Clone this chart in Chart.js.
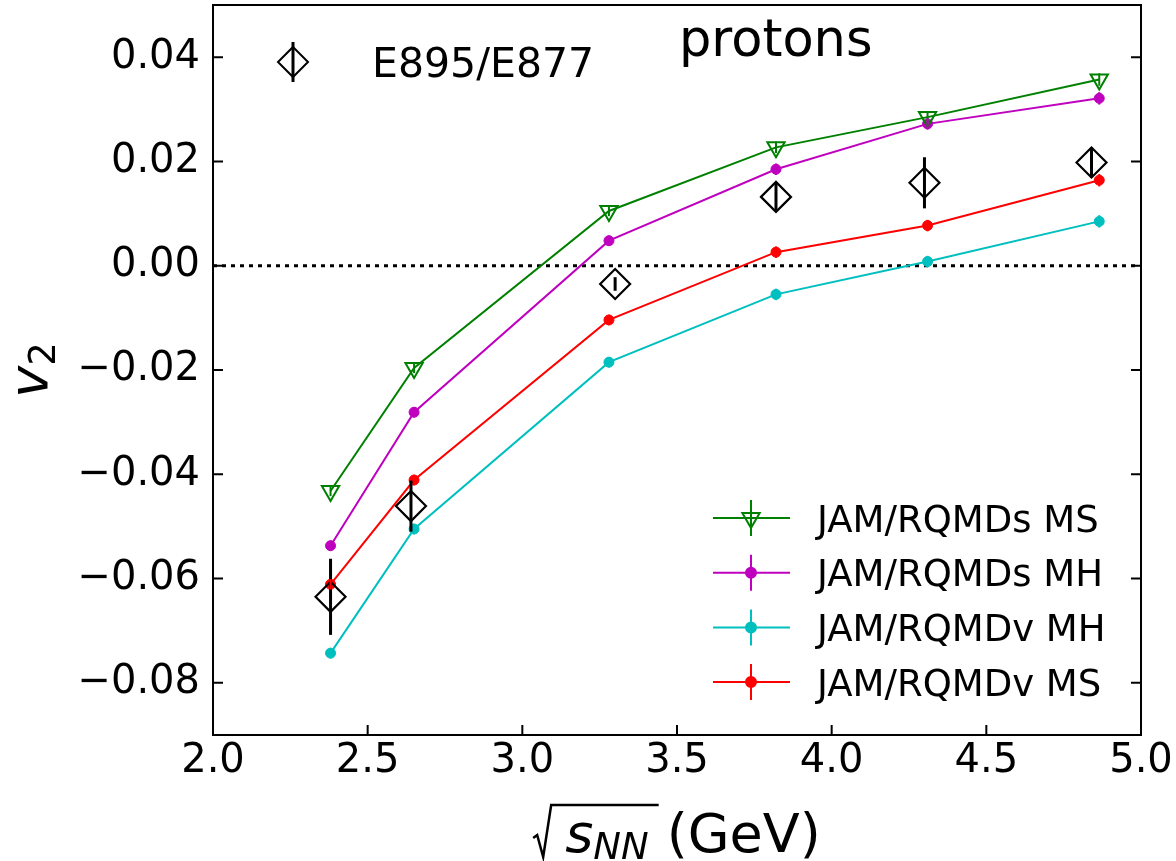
<!DOCTYPE html>
<html>
<head>
<meta charset="utf-8">
<title>protons v2</title>
<script src="https://cdn.jsdelivr.net/npm/chart.js@4.4.0/dist/chart.umd.min.js"></script>
<style>
  html, body { margin: 0; padding: 0; background: #fff; }
  #wrap { width: 1176px; height: 861px; position: relative; }
</style>
</head>
<body>
<div id="wrap"><canvas id="v2Chart"></canvas></div>
<script>
// sqrt(s_NN) in GeV
const modelEnergies = [2.38, 2.65, 3.28, 3.82, 4.31, 4.865];
const dataEnergies = [2.38, 2.64, 3.30, 3.82, 4.30, 4.84];

// model v2 values + small stat errors
const rqmdsMS = [-0.0432, -0.0196, 0.0105, 0.0227, 0.0285, 0.0357];
const rqmdsMH = [-0.0537, -0.0281, 0.0048, 0.0185, 0.0272, 0.0321];
const rqmdvMH = [-0.0743, -0.0505, -0.0185, -0.0055, 0.0008, 0.0085];
const rqmdvMS = [-0.0611, -0.0411, -0.0104, 0.0026, 0.0077, 0.0164];
const rqmdsMSErr = [0.0010, 0.0010, 0.0010, 0.0011, 0.0011, 0.0012];
const rqmdsMHErr = [0.0010, 0.0010, 0.0010, 0.0011, 0.0011, 0.0012];
const rqmdvMHErr = [0.0010, 0.0010, 0.0010, 0.0011, 0.0011, 0.0012];
const rqmdvMSErr = [0.0010, 0.0010, 0.0010, 0.0011, 0.0011, 0.0012];

// E895/E877 measurements
const e895 = [-0.0635, -0.0461, -0.0035, 0.0132, 0.0159, 0.0198];
const e895Err = [0.0073, 0.0049, 0.0013, 0.0028, 0.0049, 0.0029];

const xTicks = [2.0, 2.5, 3.0, 3.5, 4.0, 4.5, 5.0];
const yTicks = [-0.08, -0.06, -0.04, -0.02, 0.0, 0.02, 0.04];
const yRange = [-0.09, 0.05];

const FONT = '"DejaVu Sans", sans-serif';

function toPoints(xs, ys) {
  return xs.map((x, i) => ({ x: x, y: ys[i] }));
}

function fmtY(v) {
  if (Math.abs(v) < 1e-9) return "0.00";
  return (v < 0 ? "\u2212" : "") + Math.abs(v).toFixed(2);
}

// small shape helpers used by the legend
function drawMarker(ctx, style, x, y, r, color, fill) {
  ctx.save();
  ctx.beginPath();
  if (style === "triDown") {
    for (let k = 0; k < 3; k++) {
      const a = Math.PI + k * 2 * Math.PI / 3;
      const px = x + Math.sin(a) * r;
      const py = y - Math.cos(a) * r;
      if (k === 0) ctx.moveTo(px, py); else ctx.lineTo(px, py);
    }
    ctx.closePath();
  } else if (style === "diamond") {
    ctx.moveTo(x, y - r);
    ctx.lineTo(x + r, y);
    ctx.lineTo(x, y + r);
    ctx.lineTo(x - r, y);
    ctx.closePath();
  } else {
    ctx.arc(x, y, r, 0, Math.PI * 2);
  }
  if (fill) {
    ctx.fillStyle = color;
    ctx.fill();
  }
  ctx.lineWidth = 2;
  ctx.strokeStyle = color;
  ctx.stroke();
  ctx.restore();
}

// error bars for every dataset that carries an "errors" array
const errorBarPlugin = {
  id: "errorBars",
  afterDatasetsDraw(chart) {
    const ctx = chart.ctx;
    const yScale = chart.scales.y;
    chart.data.datasets.forEach((ds, i) => {
      if (!ds.errors) return;
      const meta = chart.getDatasetMeta(i);
      ctx.save();
      ctx.strokeStyle = ds.errorColor || ds.borderColor;
      ctx.lineWidth = ds.errorWidth || 2;
      meta.data.forEach((pt, j) => {
        const v = ds.data[j].y;
        const e = ds.errors[j];
        ctx.beginPath();
        ctx.moveTo(pt.x, yScale.getPixelForValue(v + e));
        ctx.lineTo(pt.x, yScale.getPixelForValue(v - e));
        ctx.stroke();
      });
      ctx.restore();
    });
  },
};

// matplotlib-like frame with inward ticks
const framePlugin = {
  id: "frame",
  afterDatasetsDraw(chart) {
    const { ctx, chartArea } = chart;
    const { left, right, top, bottom } = chartArea;
    const tl = 10;
    ctx.save();
    ctx.strokeStyle = "#000";
    ctx.lineWidth = 2;
    ctx.strokeRect(left, top, right - left, bottom - top);
    ctx.beginPath();
    chart.scales.x.ticks.forEach((t) => {
      const px = chart.scales.x.getPixelForValue(t.value);
      ctx.moveTo(px, bottom);
      ctx.lineTo(px, bottom - tl);
    });
    chart.scales.y.ticks.forEach((t) => {
      const py = chart.scales.y.getPixelForValue(t.value);
      ctx.moveTo(left, py);
      ctx.lineTo(left + tl, py);
      ctx.moveTo(right, py);
      ctx.lineTo(right - tl, py);
    });
    ctx.stroke();
    ctx.restore();
  },
};

// axis titles (math text), annotation and the two legends
const textPlugin = {
  id: "texts",
  afterDraw(chart) {
    const { ctx, chartArea } = chart;
    const midX = (chartArea.left + chartArea.right) / 2;
    const midY = (chartArea.top + chartArea.bottom) / 2;
    ctx.save();
    ctx.fillStyle = "#000";
    ctx.textBaseline = "alphabetic";
    ctx.textAlign = "left";

    // x title: sqrt(s_NN) (GeV)
    const mainFont = "54px " + FONT;
    const itFont = "italic 54px " + FONT;
    const subFont = "italic 37px " + FONT;
    ctx.font = itFont;
    const sW = ctx.measureText("s").width;
    ctx.font = subFont;
    const nnW = ctx.measureText("NN").width;
    ctx.font = mainFont;
    const gevW = ctx.measureText("(GeV)").width;
    const radW = 20;
    const total = radW + 12 + sW + nnW + 18 + gevW;
    let x0 = midX - total / 2;
    const base = 852;
    ctx.strokeStyle = "#000";
    ctx.lineWidth = 2.5;
    ctx.beginPath();
    ctx.moveTo(x0, base - 14);
    ctx.lineTo(x0 + 4, base - 17);
    ctx.lineTo(x0 + 10, base + 5);
    ctx.lineTo(x0 + radW - 2, base - 47);
    ctx.lineTo(x0 + radW + 12 + sW + nnW + 10, base - 47);
    ctx.stroke();
    let cx = x0 + radW + 12;
    ctx.font = itFont;
    ctx.fillText("s", cx, base);
    cx += sW;
    ctx.font = subFont;
    ctx.fillText("NN", cx, base + 7);
    cx += nnW + 18;
    ctx.font = mainFont;
    ctx.fillText("(GeV)", cx, base);

    // y title: v_2
    ctx.save();
    ctx.translate(47, midY);
    ctx.rotate(-Math.PI / 2);
    ctx.font = itFont;
    const vW = ctx.measureText("v").width;
    ctx.font = "37px " + FONT;
    const twoW = ctx.measureText("2").width;
    const yStart = -(vW + twoW) / 2;
    ctx.font = itFont;
    ctx.fillText("v", yStart, 0);
    ctx.font = "37px " + FONT;
    ctx.fillText("2", yStart + vW, 8);
    ctx.restore();

    // annotation
    ctx.font = "51px " + FONT;
    ctx.fillText("protons", 679, 56);

    // data legend (upper left)
    const dataLeg = { x: 293, y: 62 };
    ctx.lineWidth = 3;
    ctx.beginPath();
    ctx.moveTo(dataLeg.x, dataLeg.y - 20);
    ctx.lineTo(dataLeg.x, dataLeg.y + 20);
    ctx.stroke();
    drawMarker(ctx, "diamond", dataLeg.x, dataLeg.y, 15, "#000", false);
    ctx.font = "41px " + FONT;
    ctx.fillStyle = "#000";
    ctx.fillText("E895/E877", 372, dataLeg.y + 15);

    // model legend (lower right)
    const entries = chart.data.datasets.filter((d) => d.legendStyle);
    entries.forEach((ds, k) => {
      const ry = 518 + k * 54.7;
      ctx.strokeStyle = ds.borderColor;
      ctx.lineWidth = 2;
      ctx.beginPath();
      ctx.moveTo(713, ry);
      ctx.lineTo(790, ry);
      ctx.moveTo(751, ry - 18);
      ctx.lineTo(751, ry + 18);
      ctx.stroke();
      drawMarker(ctx, ds.legendStyle, 751, ry, ds.pointRadius, ds.borderColor, ds.legendStyle !== "triDown");
      ctx.fillStyle = "#000";
      ctx.font = "37px " + FONT;
      ctx.fillText(ds.label, 817, ry + 13.5);
    });
    ctx.restore();
  },
};

const ctx = document.getElementById("v2Chart");

new Chart(ctx.getContext("2d"), {
  type: "line",
  data: {
    datasets: [
      {
        label: "E895/E877",
        data: toPoints(dataEnergies, e895),
        errors: e895Err,
        errorColor: "#000",
        errorWidth: 3,
        showLine: false,
        borderColor: "#000",
        backgroundColor: "rgba(0,0,0,0)",
        pointStyle: "rectRot",
        pointRadius: 15,
        pointBorderWidth: 2.2,
      },
      {
        label: "JAM/RQMDs MS",
        legendStyle: "triDown",
        data: toPoints(modelEnergies, rqmdsMS),
        errors: rqmdsMSErr,
        borderColor: "#008000",
        backgroundColor: "rgba(0,0,0,0)",
        borderWidth: 2,
        pointStyle: "triangle",
        rotation: 180,
        pointRadius: 10,
        pointBorderWidth: 2,
      },
      {
        label: "JAM/RQMDs MH",
        legendStyle: "circle",
        data: toPoints(modelEnergies, rqmdsMH),
        errors: rqmdsMHErr,
        borderColor: "#bf00bf",
        backgroundColor: "#bf00bf",
        borderWidth: 2,
        pointRadius: 5,
        pointBorderWidth: 1,
      },
      {
        label: "JAM/RQMDv MH",
        legendStyle: "circle",
        data: toPoints(modelEnergies, rqmdvMH),
        errors: rqmdvMHErr,
        borderColor: "#00bfbf",
        backgroundColor: "#00bfbf",
        borderWidth: 2,
        pointRadius: 5,
        pointBorderWidth: 1,
      },
      {
        label: "JAM/RQMDv MS",
        legendStyle: "circle",
        data: toPoints(modelEnergies, rqmdvMS),
        errors: rqmdvMSErr,
        borderColor: "#ff0000",
        backgroundColor: "#ff0000",
        borderWidth: 2,
        pointRadius: 5,
        pointBorderWidth: 1,
      },
      {
        label: "zero",
        data: [{ x: xTicks[0], y: 0 }, { x: xTicks[xTicks.length - 1], y: 0 }],
        borderColor: "#000",
        borderWidth: 3,
        borderDash: [4, 5],
        pointRadius: 0,
      },
    ],
  },
  options: {
    responsive: true,
    maintainAspectRatio: false,
    animation: false,
    events: [],
    layout: { autoPadding: false, padding: { top: 5, right: 35, left: 0, bottom: 0 } },
    plugins: {
      legend: { display: false },
      tooltip: { enabled: false },
    },
    scales: {
      x: {
        type: "linear",
        min: xTicks[0],
        max: xTicks[xTicks.length - 1],
        afterBuildTicks: (scale) => {
          scale.ticks = xTicks.map((v) => ({ value: v }));
        },
        afterFit: (scale) => {
          scale.height = 126;
          scale.paddingLeft = 0;
          scale.paddingRight = 0;
        },
        grid: { display: false, drawTicks: false },
        border: { display: false },
        ticks: {
          color: "#000",
          padding: 3,
          maxRotation: 0,
          font: { family: FONT, size: 40 },
          callback: (v) => Number(v).toFixed(1),
        },
      },
      y: {
        type: "linear",
        min: yRange[0],
        max: yRange[1],
        afterBuildTicks: (scale) => {
          scale.ticks = yTicks.map((v) => ({ value: v }));
        },
        afterFit: (scale) => {
          scale.width = 213;
          scale.paddingTop = 0;
          scale.paddingBottom = 0;
        },
        grid: { display: false, drawTicks: false },
        border: { display: false },
        ticks: {
          color: "#000",
          padding: 13,
          font: { family: FONT, size: 40 },
          callback: (v) => fmtY(v),
        },
      },
    },
  },
  plugins: [errorBarPlugin, framePlugin, textPlugin],
});
</script>
</body>
</html>
